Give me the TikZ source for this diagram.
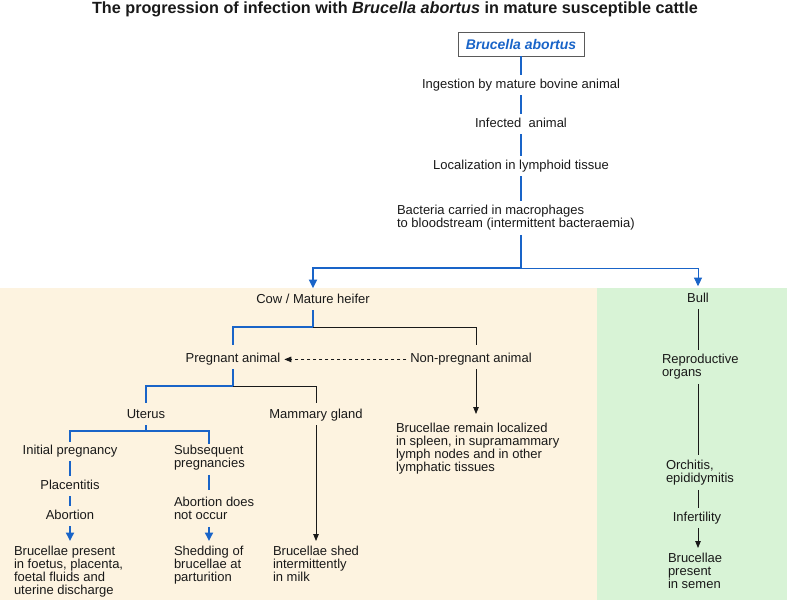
\documentclass[tikz,border=0pt]{standalone}
\usepackage{fontspec}
\setmainfont{Liberation Sans}
\usetikzlibrary{arrows.meta}
\definecolor{blu}{RGB}{25,100,200}
\definecolor{beige}{RGB}{253,243,224}
\definecolor{mint}{RGB}{216,243,214}
\definecolor{ink}{RGB}{25,25,25}
\definecolor{boxgray}{RGB}{90,90,90}
\begin{document}
\begin{tikzpicture}[x=1pt,y=-1pt,
  every node/.style={inner sep=0pt, outer sep=0pt, font=\fontsize{13}{13}\selectfont, text height=9.5pt, text depth=3pt, text=ink},
  ml/.style={align=left, anchor=north west, text height={}, text depth={}, execute at end node=\strut},
  bblue/.style={draw=blu, line width=1.8pt, shorten <=3.5pt, shorten >=4pt},
  tblue/.style={draw=blu, line width=0.9pt, shorten <=3.5pt, shorten >=4pt},
  kline/.style={draw=ink, line width=0.8pt, shorten <=3.5pt, shorten >=4pt},
  barrow/.style={-{Triangle[length=8.5pt,width=8pt]}},
  karrow/.style={-{Triangle[length=7pt,width=5.5pt]}},
  dashline/.style={draw=ink, line width=0.8pt, dash pattern=on 3.5pt off 2.5pt, shorten <=4pt, shorten >=4pt}]
\useasboundingbox (0,0) rectangle (787,600);
% panels
\fill[beige] (0,288) rectangle (597,600);
\fill[mint] (597,288) rectangle (787,600);
% title
\node[font=\bfseries\fontsize{16.2}{16.2}\selectfont] (title) at (395,10) {The progression of infection with \textit{Brucella abortus} in mature susceptible cattle};
% main chain
\node[draw=boxgray, line width=0.8pt, minimum width=126pt, minimum height=24pt, font=\bfseries\itshape\fontsize{14}{14}\selectfont, text=blu, text height=10.5pt, text depth=0.5pt] (box) at (521,44) {Brucella abortus};
\node (ingest) at (521,85.4) {Ingestion by mature bovine animal};
\node (infected) at (521,124.4) {Infected\ \ animal};
\node (local) at (521,166.4) {Localization in lymphoid tissue};
\node[ml] (bact) at (397,205) {Bacteria carried in macrophages\\to bloodstream (intermittent bacteraemia)};
\coordinate (j0) at (521,268);
% cow side
\node (cow) at (313,300.4) {Cow / Mature heifer};
\node (preg) at (233,359.4) {Pregnant animal};
\node (nonpreg) at (471,359.4) {Non-pregnant animal};
\coordinate (j1) at (313,327);
\coordinate (j1r) at (476,327);
\node (uterus) at (146,415.4) {Uterus};
\node (mammary) at (316,415.4) {Mammary gland};
\coordinate (j2) at (233,386);
\node[ml] (remain) at (396,423) {Brucellae remain localized\\in spleen, in supramammary\\lymph nodes and in other\\lymphatic tissues};
\coordinate (j3) at (146,431);
\coordinate (j3r) at (209,431);
\node (initial) at (70,451.4) {Initial pregnancy};
\node[ml] (subseq) at (174,445) {Subsequent\\pregnancies};
\node (placent) at (70,486.4) {Placentitis};
\node (abort) at (70,516.4) {Abortion};
\node[ml] (noabort) at (174,497) {Abortion does\\not occur};
\node[ml] (present) at (14,546) {Brucellae present\\in foetus, placenta,\\foetal fluids and\\uterine discharge};
\node[ml] (shed) at (174,546) {Shedding of\\brucellae at\\parturition};
\node[ml] (milk) at (273,546) {Brucellae shed\\intermittently\\in milk};
% bull side
\node (bull) at (698,299.4) {Bull};
\node[ml] (repro) at (662,354) {Reproductive\\organs};
\node[ml] (orch) at (666,460) {Orchitis,\\epididymitis};
\node (infert) at (697,518.4) {Infertility};
\node[ml] (semen) at (668,553) {Brucellae\\present\\in semen};
% connectors main chain
\draw[bblue, shorten <=0pt] (box) -- (ingest);
\draw[bblue] (ingest) -- (infected);
\draw[bblue] (infected) -- (local);
\draw[bblue] (local.south) -- (local.south |- bact.north);
\draw[bblue, barrow, shorten >=6pt] (bact.south -| j0) -- (j0) -| (cow.north);
\draw[tblue, barrow, shorten <=0pt, shorten >=7pt] (j0) -| (bull.north);
% cow branches
\draw[bblue, shorten >=8pt] (cow.south) -- (j1) -| (preg.north);
\draw[kline, shorten <=0pt, shorten >=8pt] (j1) -- (j1r) -- (j1r |- nonpreg.north);
\draw[dashline, karrow] (nonpreg.west) -- (preg.east);
\draw[kline, karrow, shorten >=9pt] (j1r |- nonpreg.south) -- (j1r |- remain.north);
\draw[bblue, shorten >=6pt] (preg.south) -- (j2) -| (uterus.north);
\draw[kline, shorten <=0pt, shorten >=6pt] (j2) -| (mammary.north);
\draw[bblue, shorten >=3pt] (uterus.south) -- (j3) -| (initial.north);
\draw[bblue, shorten <=0pt, shorten >=1pt] (j3) -- (j3r) -- (j3r |- subseq.north);
\draw[bblue] (initial) -- (placent);
\draw[bblue] (placent) -- (abort);
\draw[bblue, barrow, shorten >=5pt] (abort.south) -- (abort.south |- present.north);
\draw[bblue, shorten >=7pt] (j3r |- subseq.south) -- (j3r |- noabort.north);
\draw[bblue, barrow, shorten >=5pt] (j3r |- noabort.south) -- (j3r |- shed.north);
\draw[kline, karrow, shorten >=5pt] (mammary.south) -- (mammary.south |- milk.north);
% bull connectors
\draw[kline, shorten >=4pt] (bull.south) -- (bull.south |- repro.north);
\draw[kline, shorten >=5pt] (bull.south |- repro.south) -- (bull.south |- orch.north);
\draw[kline] (bull.south |- orch.south) -- (bull.south |- infert.north);
\draw[kline, karrow, shorten >=5pt] (bull.south |- infert.south) -- (bull.south |- semen.north);
\end{tikzpicture}
\end{document}
